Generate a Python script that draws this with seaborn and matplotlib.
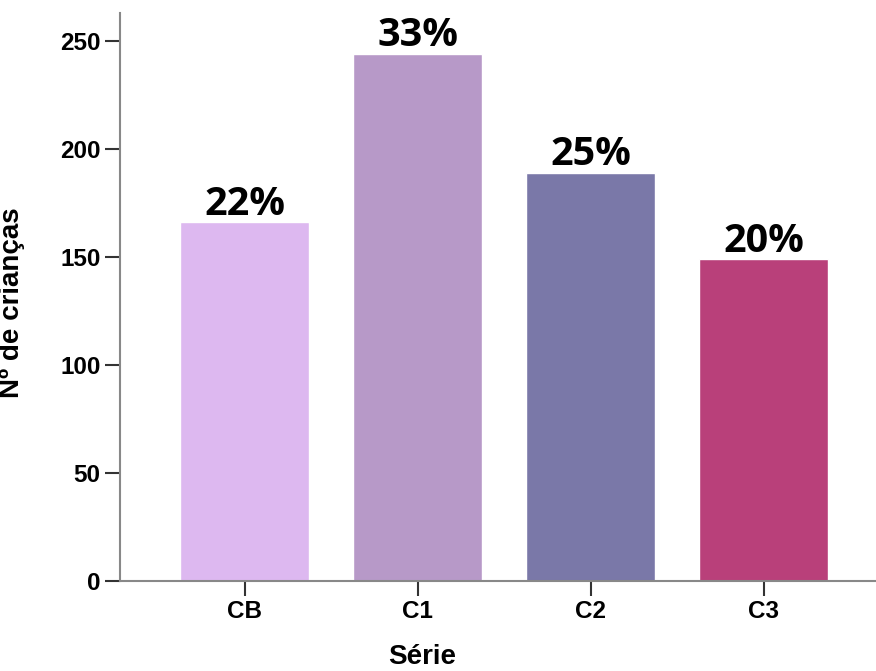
import pandas as pd
import seaborn as sns
import matplotlib.pyplot as plt

series = ['CB', 'C1', 'C2', 'C3']
n_children = [166, 244, 189, 149]
pct_labels = ['22%', '33%', '25%', '20%']
bar_colors = ['#DDB8F0', '#B799C8', '#7A78A8', '#B9407A']

df = pd.DataFrame({'serie': series, 'n': n_children})

sns.set_style('ticks')
plt.rcParams['font.family'] = ['Liberation Sans', 'DejaVu Sans']
plt.rcParams['text.color'] = 'black'
plt.rcParams['axes.labelcolor'] = 'black'
plt.rcParams['xtick.color'] = '#333333'
plt.rcParams['ytick.color'] = '#333333'

fig = plt.figure(figsize=(8.76, 6.71), dpi=100)
ax = fig.add_axes([120 / 876, 1 - 581 / 671, 756 / 876, 568 / 671])

sns.barplot(data=df, x='serie', y='n', hue='serie', palette=bar_colors,
            width=0.745, legend=False, ax=ax, saturation=1)

for cont, lab in zip(ax.containers, pct_labels):
    ax.bar_label(cont, labels=[lab], padding=-1, fontsize=28.5, fontweight='bold',
                 color='black', family=['Open Sans', 'DejaVu Sans'])

ax.set_xlim(-0.72, 3.65)
ax.set_ylim(0, 263)
ax.set_yticks([0, 50, 100, 150, 200, 250])

for s in ['top', 'right']:
    ax.spines[s].set_visible(False)
for s in ['left', 'bottom']:
    ax.spines[s].set_color('#888888')
    ax.spines[s].set_linewidth(1.5)

ax.tick_params(axis='both', direction='out', length=11, width=1.5,
               labelsize=17.5, labelcolor='black', pad=3)
for t in ax.get_xticklabels() + ax.get_yticklabels():
    t.set_fontweight('bold')

ax.set_xlabel('Série', fontsize=20, fontweight='bold')
ax.set_ylabel('Nº de crianças', fontsize=20, fontweight='bold')
ax.xaxis.set_label_coords(0.40, -0.111)
ax.yaxis.set_label_coords(-0.126, 0.49)

fig.savefig('out.png', dpi=100)
